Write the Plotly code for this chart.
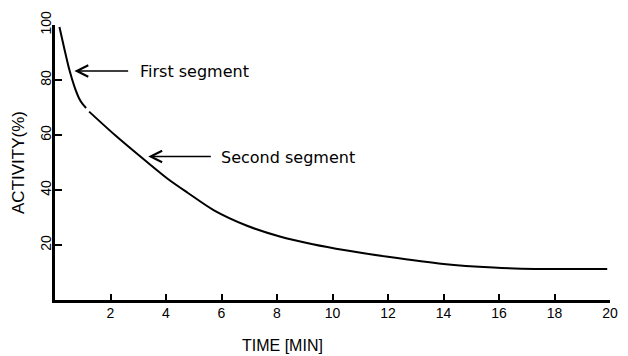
import plotly.graph_objects as go

# Data
seg1_t = [0.16, 0.34, 0.52, 0.70, 0.87, 1.00, 1.12]
seg1_y = [99.3, 91.2, 83.6, 77.6, 73.3, 71.2, 69.8]

seg2_t = [1.23, 2.18, 3.36, 4.07, 4.78, 5.73, 6.92, 8.10, 9.29, 10.47, 12.0, 14.0, 15.8, 17.3, 19.9]
seg2_y = [68.5, 59.8, 49.8, 44.0, 39.0, 32.6, 27.0, 23.1, 20.3, 18.1, 15.7, 13.1, 11.8, 11.3, 11.3]

x_ticks = [2, 4, 6, 8, 10, 12, 14, 16, 18, 20]
y_ticks = [20, 40, 60, 80, 100]

label_first = "First segment"
label_second = "Second segment"
first_arrow = dict(tip=(0.70, 83.3), tail=(2.69, 83.3), text_at=(3.0, 83.0))
second_arrow = dict(tip=(3.36, 52.2), tail=(5.67, 52.2), text_at=(5.92, 52.0))

fig = go.Figure()
line_style = dict(color="black", width=2)
fig.add_trace(go.Scatter(x=seg1_t, y=seg1_y, mode="lines",
                         line=dict(shape="spline", smoothing=0.8, **line_style), hoverinfo="skip"))
fig.add_trace(go.Scatter(x=seg2_t, y=seg2_y, mode="lines",
                         line=dict(shape="spline", smoothing=0.8, **line_style), hoverinfo="skip"))

for arr, lab in ((first_arrow, label_first), (second_arrow, label_second)):
    fig.add_annotation(x=arr["tip"][0], y=arr["tip"][1], ax=arr["tail"][0], ay=arr["tail"][1],
                       xref="x", yref="y", axref="x", ayref="y", text="", showarrow=True,
                       arrowhead=5, arrowsize=1.4, arrowwidth=1.6, arrowcolor="black", standoff=0)
    fig.add_annotation(x=arr["text_at"][0], y=arr["text_at"][1], xref="x", yref="y", text=lab,
                       showarrow=False, xanchor="left", yanchor="middle",
                       font=dict(family="DejaVu Sans", size=16, color="black"))

plot_l, plot_r, plot_t, plot_b = 55, 10, 25, 56
plot_w = 628 - plot_l - plot_r
plot_h = 356 - plot_t - plot_b

fig.add_annotation(x=(286 - plot_l) / plot_w, y=-(345 - (356 - plot_b)) / plot_h,
                   xref="paper", yref="paper", text="TIME [MIN]", showarrow=False,
                   xanchor="center", yanchor="middle",
                   font=dict(family="Liberation Sans", size=16, color="black"))

fig.update_layout(
    width=628, height=356,
    margin=dict(l=plot_l, r=plot_r, t=plot_t, b=plot_b),
    paper_bgcolor="white", plot_bgcolor="white",
    showlegend=False,
    font=dict(family="Liberation Sans", size=13, color="black"),
)

fig.update_xaxes(range=[0, 20], tickvals=x_ticks, ticktext=[str(v) for v in x_ticks],
                 showline=True, linecolor="black", linewidth=3, showgrid=False, zeroline=False,
                 ticks="inside", ticklen=6, tickwidth=1.5, tickcolor="black",
                 ticklabelstandoff=-2,
                 tickfont=dict(family="Liberation Sans", size=14, color="black"))
fig.update_yaxes(range=[0, 100], tickvals=y_ticks, ticktext=[str(v) for v in y_ticks],
                 showline=True, linecolor="black", linewidth=3, showgrid=False, zeroline=False,
                 ticks="inside", ticklen=7, tickwidth=1.5, tickcolor="black", tickangle=-90,
                 ticklabelstandoff=-5,
                 tickfont=dict(family="Liberation Sans", size=14, color="black"),
                 title=dict(text="ACTIVITY(%)", font=dict(family="Liberation Sans", size=17, color="black"),
                            standoff=10))

fig.write_html("out.html")
